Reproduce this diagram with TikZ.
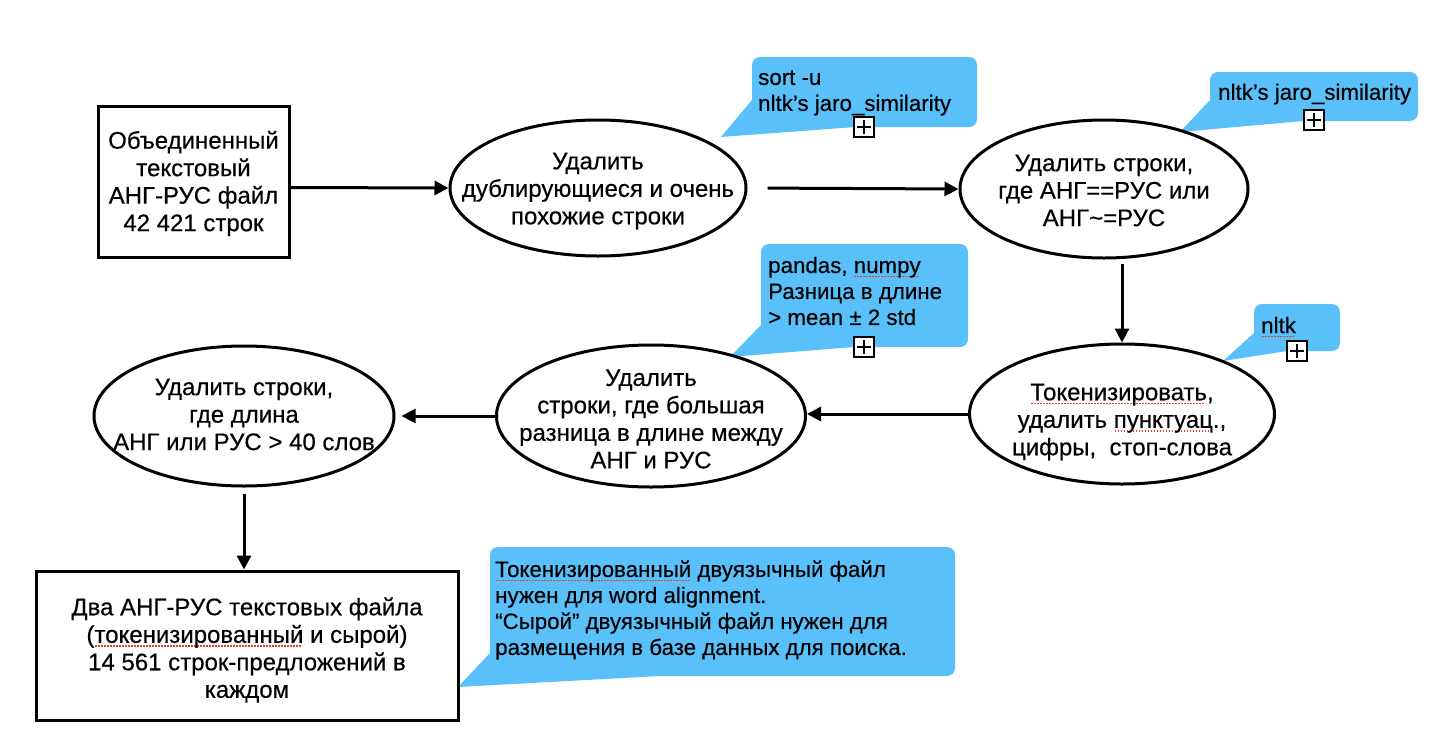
\documentclass[tikz,border=0pt]{standalone}
\usepackage{fontspec}
\setmainfont{Liberation Sans}[FakeBold=0.4]
\usetikzlibrary{arrows.meta,shapes.geometric}
\definecolor{callblue}{RGB}{90,192,250}
\definecolor{sqred}{RGB}{235,60,50}
\newsavebox\sqbox
\newcommand\redsq[1]{\sbox\sqbox{#1}\rlap{\raisebox{-4pt}{\textcolor{sqred}{\leaders\hbox to 3pt{\hss\rule{1.6pt}{1.3pt}\hss}\hskip\wd\sqbox}}}\usebox\sqbox}
\begin{document}
\begin{tikzpicture}[x=1pt,y=-1pt,
  every node/.style={font=\fontsize{24}{27.5}\selectfont},
  procbox/.style={draw,line width=3pt,rectangle,inner sep=0pt},
  proc/.style={draw,line width=3pt,ellipse,inner sep=0pt},
  ptext/.style={inner sep=0pt,align=center},
  flow/.style={line width=3pt,-{Triangle[length=14pt,width=14pt]}},
  calltext/.style={anchor=west,inner sep=0pt,align=left,font=\fontsize{22.3}{26}\selectfont},
  callout/.style={fill=callblue,draw=none},
  plusbox/.style={draw,fill=white,line width=1.5pt,minimum size=20pt,inner sep=0pt,
    path picture={\draw[line width=1.5pt] ([xshift=-7pt]path picture bounding box.center)--([xshift=7pt]path picture bounding box.center);
      \draw[line width=1.5pt] ([yshift=-7pt]path picture bounding box.center)--([yshift=7pt]path picture bounding box.center);}}
]
\useasboundingbox (0,0) rectangle (1430,734);

% callouts
\fill[callout,rounded corners=8pt] (752,57) rectangle (977,127);
\fill[callout] (752,100) -- (721,137) -- (855,127) -- (855,110) -- cycle;
\node[calltext] (c1t) at (758,93) {sort -u\\nltk’s jaro\_similarity};
\node[plusbox] (p1) at (864,127) {};

\fill[callout,rounded corners=8pt] (1210,72) rectangle (1418,121);
\fill[callout] (1210,100) -- (1180,132) -- (1303,121) -- (1303,105) -- cycle;
\node[calltext] (c2t) at (1218,94) {nltk’s jaro\_similarity};
\node[plusbox] (p2) at (1314,120) {};

\fill[callout,rounded corners=8pt] (761,244) rectangle (968,347);
\fill[callout] (761,325) -- (730,357) -- (853,347) -- (853,330) -- cycle;
\node[calltext] (c3t) at (768,291) {pandas, \redsq{numpy}\\Разница в длине\\> mean ± 2 std};
\node[plusbox] (p3) at (864,347) {};

\fill[callout,rounded corners=8pt] (1254,304) rectangle (1340,351);
\fill[callout] (1254,333) -- (1223,361) -- (1287,351) -- (1287,340) -- cycle;
\node[calltext] (c4t) at (1261,327) {\redsq{nltk}};
\node[plusbox] (p4) at (1297,351) {};

\fill[callout,rounded corners=8pt] (490,547) rectangle (955,676);
\fill[callout] (490,653) -- (458,687) -- (660,676) -- (660,660) -- cycle;
\node[calltext] (c5t) at (495,610) {\redsq{Токенизированный} двуязычный файл\\нужен для word alignment.\\“Сырой” двуязычный файл нужен для\\размещения в базе данных для поиска.};

% process shapes
\node[procbox,minimum width=191pt,minimum height=151pt] (b1) at (193.5,181.5) {};
\node[proc,minimum width=296pt,minimum height=136pt] (e1) at (598,188) {};
\node[proc,minimum width=288pt,minimum height=138pt] (e2) at (1104,189) {};
\node[proc,minimum width=305pt,minimum height=140pt] (e3) at (1122,414) {};
\node[proc,minimum width=309pt,minimum height=142pt] (e4) at (651,416) {};
\node[proc,minimum width=300pt,minimum height=140pt] (e5) at (244,416) {};
\node[procbox,minimum width=422pt,minimum height=149pt] (b2) at (247,645.5) {};

% process texts
\node[ptext] (b1t) at (193.5,183.5) {Объединенный\\текстовый\\АНГ-РУС файл\\42 421 строк};
\node[ptext] (e1t) at (598,191) {Удалить\\дублирующиеся и очень\\похожие строки};
\node[ptext] (e2t) at (1104,190.5) {Удалить строки,\\где АНГ==РУС или\\АНГ\char`~=РУС};
\node[ptext] (e3t) at (1122,422) {\redsq{Токенизировать},\\удалить \redsq{пунктуац}.,\\цифры,\ \ стоп-слова};
\node[ptext] (e4t) at (651,419) {Удалить\\строки, где большая\\разница в длине между\\АНГ и РУС};
\node[ptext] (e5t) at (244,414.5) {Удалить строки,\\где длина\\АНГ или РУС > 40 слов};
\node[ptext] (b2t) at (247,650) {Два АНГ-РУС текстовых файла\\(\redsq{токенизированный} и сырой)\\14 561 строк-предложений в\\каждом};

% connectors
\draw[flow] ([yshift=-6pt]b1.east) -- (e1.west);
\draw[flow,shorten <=20pt] (e1.east) -- (e2.west);
\draw[flow,shorten <=4pt] (e2.south -| e3.north) -- (e3.north);
\draw[flow] (e3.west) -- (e3.west -| e4.east);
\draw[flow,shorten >=6pt] (e4.west) -- (e4.west -| e5.east);
\draw[flow,shorten <=6pt] (e5.south) -- (e5.south |- b2.north);
\end{tikzpicture}
\end{document}
